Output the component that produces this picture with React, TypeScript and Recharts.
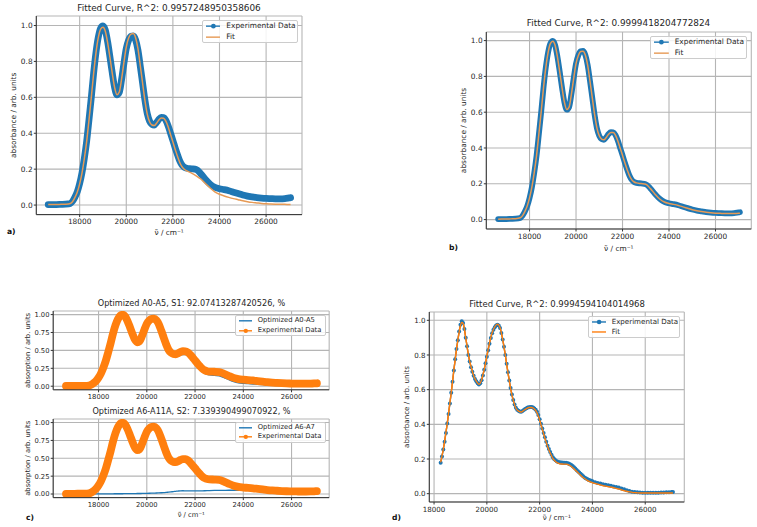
import React from 'react';
import { LineChart, Line, XAxis, YAxis, CartesianGrid, Legend } from 'recharts';

const FONT = "'DejaVu Sans', 'Liberation Sans', sans-serif";
const BLUE = '#1f77b4';
const ORANGE = '#ff7f0e';
const FIT_TAN = '#e69a55';
const TEXT = '#262626';
const SPINE = '#333333';
const GRID = '#b5b5b5';

// ---- shared spectrum (panels a, b, c) ----
const specX = [
  16650, 16800, 17000, 17200, 17400, 17600, 17700, 17800, 17900, 18000,
  18100, 18200, 18300, 18400, 18500, 18600, 18700, 18800, 18900, 19000,
  19100, 19200, 19300, 19400, 19500, 19600, 19700, 19800, 19900, 20000,
  20100, 20200, 20300, 20400, 20500, 20600, 20700, 20800, 20900, 21000,
  21100, 21200, 21300, 21400, 21500, 21600, 21700, 21800, 21900, 22000,
  22100, 22200, 22300, 22400, 22500, 22600, 22800, 23000, 23200, 23400,
  23600, 23800, 24000, 24200, 24400, 24600, 24800, 25000, 25200, 25400,
  25600, 25800, 26000, 26200, 26400, 26600, 26800, 27000, 27050,
];
const specExp = [
  0.003, 0.003, 0.003, 0.004, 0.005, 0.009, 0.022, 0.045, 0.075, 0.12,
  0.18, 0.26, 0.355, 0.475, 0.6, 0.735, 0.85, 0.935, 0.985, 0.998,
  0.975, 0.91, 0.825, 0.735, 0.655, 0.614, 0.628, 0.7, 0.79, 0.872,
  0.918, 0.94, 0.942, 0.92, 0.864, 0.775, 0.68, 0.585, 0.51, 0.468,
  0.45, 0.446, 0.46, 0.478, 0.488, 0.487, 0.472, 0.44, 0.4, 0.36,
  0.318, 0.28, 0.245, 0.222, 0.21, 0.205, 0.202, 0.198, 0.174, 0.143,
  0.116, 0.099, 0.091, 0.086, 0.08, 0.072, 0.064, 0.056, 0.05, 0.046,
  0.042, 0.039, 0.037, 0.036, 0.035, 0.035, 0.036, 0.04, 0.041,
];
const fitA = [
  0.003, 0.003, 0.003, 0.004, 0.005, 0.009, 0.02, 0.043, 0.073, 0.118,
  0.178, 0.258, 0.353, 0.473, 0.6, 0.733, 0.848, 0.932, 0.98, 0.99,
  0.968, 0.905, 0.822, 0.733, 0.655, 0.615, 0.63, 0.703, 0.795, 0.88,
  0.93, 0.952, 0.955, 0.932, 0.872, 0.778, 0.68, 0.583, 0.507, 0.464,
  0.446, 0.443, 0.456, 0.474, 0.485, 0.484, 0.468, 0.435, 0.393, 0.352,
  0.31, 0.27, 0.236, 0.212, 0.198, 0.19, 0.178, 0.163, 0.145, 0.12,
  0.095, 0.074, 0.06, 0.051, 0.043, 0.036, 0.03, 0.024, 0.019, 0.015,
  0.012, 0.009, 0.007, 0.006, 0.005, 0.004, 0.004, 0.003, 0.003,
];
const fitB = [
  0.002, 0.003, 0.003, 0.004, 0.005, 0.01, 0.022, 0.046, 0.076, 0.121,
  0.181, 0.261, 0.356, 0.476, 0.601, 0.735, 0.849, 0.934, 0.984, 0.997,
  0.974, 0.909, 0.824, 0.735, 0.656, 0.615, 0.628, 0.699, 0.789, 0.871,
  0.917, 0.939, 0.941, 0.919, 0.863, 0.774, 0.68, 0.586, 0.511, 0.468,
  0.45, 0.446, 0.459, 0.477, 0.487, 0.486, 0.471, 0.439, 0.399, 0.359,
  0.317, 0.279, 0.245, 0.222, 0.21, 0.205, 0.201, 0.197, 0.173, 0.142,
  0.115, 0.098, 0.09, 0.085, 0.079, 0.071, 0.063, 0.055, 0.049, 0.045,
  0.041, 0.038, 0.036, 0.035, 0.034, 0.034, 0.034, 0.035, 0.035,
];
const cA05 = [
  0.003, 0.003, 0.003, 0.004, 0.005, 0.009, 0.021, 0.044, 0.073, 0.118,
  0.178, 0.257, 0.352, 0.472, 0.597, 0.731, 0.846, 0.931, 0.981, 0.993,
  0.97, 0.905, 0.82, 0.729, 0.649, 0.607, 0.62, 0.69, 0.78, 0.862,
  0.906, 0.927, 0.928, 0.905, 0.848, 0.757, 0.66, 0.563, 0.482, 0.438,
  0.415, 0.408, 0.418, 0.434, 0.443, 0.442, 0.429, 0.397, 0.357, 0.317,
  0.276, 0.238, 0.203, 0.178, 0.165, 0.158, 0.15, 0.145, 0.12, 0.09,
  0.063, 0.046, 0.039, 0.035, 0.031, 0.026, 0.021, 0.017, 0.013, 0.01,
  0.008, 0.006, 0.005, 0.004, 0.004, 0.003, 0.003, 0.003, 0.003,
];
const cA67 = [
  0, 0, 0, 0, 0, 0.001, 0.001, 0.001, 0.002, 0.002,
  0.002, 0.002, 0.003, 0.003, 0.003, 0.003, 0.004, 0.004, 0.004, 0.004,
  0.005, 0.005, 0.005, 0.006, 0.006, 0.007, 0.007, 0.008, 0.009, 0.01,
  0.011, 0.012, 0.013, 0.014, 0.016, 0.018, 0.02, 0.022, 0.026, 0.03,
  0.034, 0.038, 0.042, 0.045, 0.046, 0.045, 0.044, 0.043, 0.043, 0.043,
  0.044, 0.044, 0.045, 0.046, 0.047, 0.048, 0.05, 0.051, 0.052, 0.053,
  0.053, 0.053, 0.052, 0.05, 0.048, 0.045, 0.042, 0.038, 0.035, 0.031,
  0.028, 0.025, 0.022, 0.02, 0.018, 0.017, 0.015, 0.014, 0.014,
];

// ---- panel d: experimental points ----
const dExpX = [
  18250, 18300, 18350, 18400, 18450, 18500, 18550, 18600, 18650, 18700,
  18750, 18800, 18850, 18900, 18950, 19000, 19050, 19100, 19150, 19200,
  19250, 19300, 19350, 19400, 19450, 19500, 19550, 19600, 19650, 19700,
  19750, 19800, 19850, 19900, 19950, 20000, 20050, 20100, 20150, 20200,
  20250, 20300, 20350, 20400, 20450, 20500, 20550, 20600, 20650, 20700,
  20750, 20800, 20850, 20900, 20950, 21000, 21050, 21100, 21150, 21200,
  21250, 21300, 21350, 21400, 21450, 21500, 21550, 21600, 21650, 21700,
  21750, 21800, 21850, 21900, 21950, 22000, 22050, 22100, 22150, 22200,
  22250, 22300, 22350, 22400, 22450, 22500, 22550, 22600, 22650, 22700,
  22750, 22800, 22850, 22900, 22950, 23000, 23050, 23100, 23150, 23200,
  23250, 23300, 23350, 23400, 23450, 23500, 23550, 23600, 23650, 23700,
  23750, 23800, 23850, 23900, 23950, 24000, 24100, 24200, 24300, 24400,
  24500, 24600, 24700, 24800, 24900, 25000, 25100, 25200, 25300, 25400,
  25500, 25600, 25700, 25800, 25900, 26000, 26100, 26200, 26300, 26400,
  26500, 26600, 26700, 26800, 26900, 27000, 27050,
];
const dExp = [
  0.178, 0.215, 0.255, 0.3, 0.35, 0.405, 0.46, 0.52, 0.582, 0.645,
  0.71, 0.775, 0.835, 0.885, 0.935, 0.975, 0.995, 0.985, 0.95, 0.9,
  0.85, 0.8, 0.762, 0.73, 0.703, 0.68, 0.662, 0.648, 0.637, 0.63,
  0.637, 0.655, 0.682, 0.715, 0.752, 0.79, 0.828, 0.865, 0.898, 0.925,
  0.946, 0.96, 0.97, 0.975, 0.97, 0.955, 0.927, 0.89, 0.847, 0.8,
  0.75, 0.7, 0.653, 0.61, 0.572, 0.54, 0.515, 0.495, 0.484, 0.478,
  0.474, 0.473, 0.477, 0.483, 0.488, 0.493, 0.497, 0.499, 0.5, 0.5,
  0.497, 0.492, 0.484, 0.472, 0.454, 0.43, 0.404, 0.376, 0.35, 0.325,
  0.3, 0.277, 0.257, 0.24, 0.224, 0.21, 0.2, 0.193, 0.187, 0.183,
  0.181, 0.18, 0.18, 0.179, 0.179, 0.178, 0.176, 0.174, 0.17, 0.165,
  0.159, 0.152, 0.145, 0.137, 0.13, 0.122, 0.115, 0.107, 0.1, 0.094,
  0.089, 0.084, 0.08, 0.077, 0.074, 0.071, 0.066, 0.062, 0.058, 0.054,
  0.051, 0.048, 0.045, 0.042, 0.039, 0.035, 0.03, 0.025, 0.02, 0.015,
  0.011, 0.009, 0.008, 0.007, 0.006, 0.006, 0.006, 0.006, 0.006, 0.006,
  0.006, 0.007, 0.007, 0.008, 0.008, 0.009, 0.01,
];

// ---- panel d: fit curve ----
const dFitX = [
  18250, 18300, 18400, 18500, 18600, 18700, 18800, 18900, 19000, 19050,
  19100, 19200, 19300, 19400, 19500, 19600, 19700, 19800, 19900, 20000,
  20100, 20200, 20300, 20400, 20500, 20600, 20700, 20800, 20900, 21000,
  21100, 21200, 21300, 21400, 21500, 21600, 21700, 21800, 21900, 22000,
  22100, 22200, 22300, 22400, 22500, 22600, 22700, 22800, 22900, 23000,
  23100, 23200, 23300, 23400, 23500, 23600, 23700, 23800, 23900, 24000,
  24100, 24200, 24300, 24400, 24500, 24600, 24700, 24800, 24900, 25000,
  25100, 25200, 25300, 25400, 25500, 25600, 25700, 25800, 25900, 26000,
  26100, 26200, 26300, 26400, 26500, 26600, 26700, 26800, 26900, 27000,
  27050,
];
const dFit = [
  0.18, 0.217, 0.302, 0.407, 0.522, 0.647, 0.775, 0.883, 0.97, 0.988,
  0.982, 0.9, 0.802, 0.732, 0.681, 0.649, 0.631, 0.656, 0.717, 0.793,
  0.868, 0.928, 0.963, 0.978, 0.957, 0.89, 0.798, 0.698, 0.608, 0.538,
  0.493, 0.476, 0.471, 0.481, 0.491, 0.497, 0.497, 0.488, 0.467, 0.425,
  0.371, 0.32, 0.272, 0.234, 0.204, 0.186, 0.176, 0.172, 0.171, 0.17,
  0.166, 0.157, 0.144, 0.129, 0.114, 0.099, 0.087, 0.077, 0.07, 0.064,
  0.059, 0.055, 0.051, 0.047, 0.044, 0.041, 0.038, 0.035, 0.031, 0.027,
  0.022, 0.018, 0.014, 0.011, 0.008, 0.006, 0.005, 0.004, 0.004, 0.004,
  0.004, 0.004, 0.004, 0.004, 0.004, 0.004, 0.004, 0.004, 0.004, 0.004,
  0.004,
];

const xTicks = [18000, 20000, 22000, 24000, 26000];
const yTicksTenths = [0, 0.2, 0.4, 0.6, 0.8, 1.0];
const yTicksQuarters = [0, 0.25, 0.5, 0.75, 1.0];

const titleA = 'Fitted Curve, R^2: 0.9957248950358606';
const titleB = 'Fitted Curve, R^2: 0.9999418204772824';
const titleC1 = 'Optimized A0-A5, S1: 92.07413287420526, %';
const titleC2 = 'Optimized A6-A11A, S2: 7.339390499070922, %';
const titleD = 'Fitted Curve, R^2: 0.9994594104014968';
const xLabelText = 'ν̃ / cm⁻¹';
const yLabelAbs = 'absorbance / arb. units';
const yLabelAbp = 'absorption / arb. units';

const rowsSpec = specX.map((x, i) => ({
  x,
  exp: specExp[i],
  fitA: fitA[i],
  fitB: fitB[i],
  a05: cA05[i],
  a67: cA67[i],
}));
const rowsDExp = dExpX.map((x, i) => ({ x, exp: dExp[i] }));
const rowsDFit = dFitX.map((x, i) => ({ x, fit: dFit[i] }));

function MplLegend(props: any) {
  const { payload, fs, width, order } = props;
  const lh = fs * 1.12;
  const items = [...(payload || [])].sort(
    (a: any, b: any) => order.indexOf(String(a.value)) - order.indexOf(String(b.value)),
  );
  return (
    <div
      style={{
        width,
        boxSizing: 'border-box',
        background: 'rgba(255,255,255,0.85)',
        border: '1px solid #cccccc',
        borderRadius: 2,
        padding: `${fs * 0.15}px ${fs * 0.4}px`,
        fontFamily: FONT,
        fontSize: fs,
        color: TEXT,
        lineHeight: `${lh}px`,
      }}
    >
      {items.map((e: any, i: number) => (
        <div
          key={String(e.value)}
          style={{ display: 'flex', alignItems: 'center', whiteSpace: 'nowrap', marginTop: i === 0 ? 0 : fs * 0.3 }}
        >
          <svg width={fs * 2} height={lh} style={{ flex: 'none', display: 'block' }}>
            <line x1={0} y1={lh / 2} x2={fs * 2} y2={lh / 2} stroke={e.color} strokeWidth={1.4} />
            {e.type === 'circle' ? <circle cx={fs} cy={lh / 2} r={fs * 0.32} fill={e.color} /> : null}
          </svg>
          <span style={{ marginLeft: fs * 0.8 }}>{e.value}</span>
        </div>
      ))}
    </div>
  );
}

function Panel(p: any) {
  const chartLeft = Math.max(0, p.yLabelX - 8);
  const mt = 2;
  const mr = 3;
  const yw = p.L - chartLeft;
  const chartTop = p.T - mt;
  const bottomExtra = p.xLabelY ? p.xLabelY - p.B + p.fs : p.fs * 2 + 4;
  const width = p.R - chartLeft + mr;
  const height = p.B - chartTop + bottomExtra;
  const tickStyle = { fill: TEXT, fontSize: p.fs, fontFamily: FONT };
  return (
    <div style={{ position: 'absolute', left: chartLeft, top: chartTop, width, height }}>
      <LineChart width={width} height={height} data={p.data} margin={{ top: mt, right: mr, bottom: 0, left: 0 }}>
        <CartesianGrid stroke={GRID} strokeWidth={1.1} />
        <XAxis
          dataKey="x"
          type="number"
          domain={p.xDomain}
          allowDataOverflow
          ticks={xTicks}
          interval={0}
          tickFormatter={(v: number) => String(v)}
          tick={tickStyle}
          tickSize={2.5}
          tickMargin={2}
          stroke={SPINE}
          height={bottomExtra}
          label={
            p.xLabel
              ? {
                  value: p.xLabel,
                  position: 'insideTop',
                  offset: p.xLabelY - p.B - p.fs * 0.35,
                  fill: TEXT,
                  fontSize: p.fs,
                  fontFamily: FONT,
                }
              : undefined
          }
        />
        <XAxis
          xAxisId="top"
          orientation="top"
          dataKey="x"
          type="number"
          domain={p.xDomain}
          allowDataOverflow
          tick={false}
          tickLine={false}
          height={0}
          stroke={SPINE}
        />
        <YAxis
          type="number"
          domain={p.yDomain}
          allowDataOverflow
          ticks={p.yTicks}
          interval={0}
          tickFormatter={(v: number) => v.toFixed(p.yDigits)}
          tick={tickStyle}
          tickSize={2.5}
          tickMargin={1.2}
          stroke={SPINE}
          width={yw}
          label={{
            value: p.yLabel,
            angle: -90,
            position: 'insideLeft',
            offset: p.yLabelX - chartLeft,
            textAnchor: 'middle',
            style: { textAnchor: 'middle' },
            fill: TEXT,
            fontSize: p.fs,
            fontFamily: FONT,
          }}
        />
        <YAxis
          yAxisId="right"
          orientation="right"
          type="number"
          domain={p.yDomain}
          allowDataOverflow
          tick={false}
          tickLine={false}
          width={0}
          stroke={SPINE}
        />
        {p.children}
        <Legend
          layout="vertical"
          align="center"
          verticalAlign="middle"
          wrapperStyle={{
            left: p.legend.left - chartLeft,
            top: p.legend.top - chartTop,
            width: p.legend.width,
            right: 'auto',
            bottom: 'auto',
          }}
          content={(lp: any) => (
            <MplLegend payload={lp.payload} fs={p.fs} width={p.legend.width} order={p.legendOrder} />
          )}
        />
      </LineChart>
      {p.overlay ? (
        <div style={{ position: 'absolute', left: 0, top: 0, pointerEvents: 'none' }}>
          <LineChart width={width} height={height} margin={{ top: mt, right: mr, bottom: bottomExtra, left: yw }}>
            <XAxis dataKey="x" type="number" domain={p.xDomain} allowDataOverflow hide />
            <YAxis type="number" domain={p.yDomain} allowDataOverflow hide />
            {p.overlay}
          </LineChart>
        </div>
      ) : null}
    </div>
  );
}

function Caption(p: any) {
  const style: any = {
    position: 'absolute',
    top: p.cy - p.fs * 0.6,
    fontFamily: FONT,
    fontSize: p.fs,
    lineHeight: `${p.fs * 1.2}px`,
    color: p.bold ? '#111' : TEXT,
    fontWeight: p.bold ? 'bold' : 'normal',
    whiteSpace: 'nowrap',
  };
  if (p.left !== undefined) {
    style.left = p.left;
  } else {
    style.left = p.cx - 250;
    style.width = 500;
    style.textAlign = 'center';
  }
  return <div style={style}>{p.text}</div>;
}

export default function App() {
  return (
    <div
      style={{
        position: 'absolute',
        left: 0,
        top: 0,
        width: 757,
        height: 527,
        background: '#ffffff',
        overflow: 'hidden',
        fontFamily: FONT,
      }}
    >
      {/* a) */}
      <Panel
        L={36} T={15.7} R={301.7} B={214.3}
        xDomain={[16140, 27540]} yDomain={[-0.053, 1.053]}
        yTicks={yTicksTenths} yDigits={1}
        data={rowsSpec} yLabel={yLabelAbs} yLabelX={12.7}
        xLabel={xLabelText} xLabelY={232} fs={7.4}
        legend={{ left: 201.7, top: 20, width: 96.5 }}
        legendOrder={['Experimental Data', 'Fit']}
      >
        <Line dataKey="exp" name="Experimental Data" type="monotone" stroke={BLUE} strokeWidth={6.8}
          strokeLinecap="round" strokeLinejoin="round" dot={false} activeDot={false} legendType="circle" isAnimationActive={false} />
        <Line dataKey="fitA" name="Fit" type="monotone" stroke={FIT_TAN} strokeWidth={1.5}
          dot={false} activeDot={false} legendType="line" isAnimationActive={false} />
      </Panel>
      <Caption text={titleA} cx={169} cy={8} fs={8.9} />
      <Caption text="a)" left={7} cy={232} fs={7.6} bold />

      {/* b) */}
      <Panel
        L={486} T={31.7} R={751} B={228.7}
        xDomain={[16140, 27540]} yDomain={[-0.0525, 1.048]}
        yTicks={yTicksTenths} yDigits={1}
        data={rowsSpec} yLabel={yLabelAbs} yLabelX={462.7}
        xLabel={xLabelText} xLabelY={248} fs={7.4}
        legend={{ left: 650, top: 36, width: 96.7 }}
        legendOrder={['Experimental Data', 'Fit']}
      >
        <Line dataKey="exp" name="Experimental Data" type="monotone" stroke={BLUE} strokeWidth={5.8}
          strokeLinecap="round" strokeLinejoin="round" dot={false} activeDot={false} legendType="circle" isAnimationActive={false} />
        <Line dataKey="fitB" name="Fit" type="monotone" stroke={FIT_TAN} strokeWidth={1.5}
          dot={false} activeDot={false} legendType="line" isAnimationActive={false} />
      </Panel>
      <Caption text={titleB} cx={618.5} cy={23} fs={8.9} />
      <Caption text="b)" left={449} cy={248} fs={7.6} bold />

      {/* c) top */}
      <Panel
        L={53.5} T={310.5} R={329.5} B={389.3}
        xDomain={[16120, 27560]} yDomain={[-0.05, 1.05]}
        yTicks={yTicksQuarters} yDigits={2}
        data={rowsSpec} yLabel={yLabelAbp} yLabelX={28.3}
        fs={6.8}
        legend={{ left: 235, top: 315, width: 91 }}
        legendOrder={['Optimized A0-A5', 'Experimental Data']}
      >
        <Line dataKey="a05" name="Optimized A0-A5" type="monotone" stroke={BLUE} strokeWidth={1.3}
          dot={false} activeDot={false} legendType="line" isAnimationActive={false} />
        <Line dataKey="exp" name="Experimental Data" type="monotone" stroke={ORANGE} strokeWidth={7.8}
          strokeLinecap="round" strokeLinejoin="round" dot={false} activeDot={false} legendType="circle" isAnimationActive={false} />
      </Panel>
      <Caption text={titleC1} cx={191.5} cy={304} fs={8.15} />

      {/* c) bottom */}
      <Panel
        L={53.5} T={418.7} R={329.5} B={497.3}
        xDomain={[16120, 27560]} yDomain={[-0.05, 1.05]}
        yTicks={yTicksQuarters} yDigits={2}
        data={rowsSpec} yLabel={yLabelAbp} yLabelX={28.3}
        xLabel={xLabelText} xLabelY={514} fs={6.8}
        legend={{ left: 235, top: 421.7, width: 91 }}
        legendOrder={['Optimized A6-A7', 'Experimental Data']}
      >
        <Line dataKey="a67" name="Optimized A6-A7" type="monotone" stroke={BLUE} strokeWidth={1.3}
          dot={false} activeDot={false} legendType="line" isAnimationActive={false} />
        <Line dataKey="exp" name="Experimental Data" type="monotone" stroke={ORANGE} strokeWidth={7.8}
          strokeLinecap="round" strokeLinejoin="round" dot={false} activeDot={false} legendType="circle" isAnimationActive={false} />
      </Panel>
      <Caption text={titleC2} cx={191.5} cy={412} fs={8.15} />
      <Caption text="c)" left={26} cy={518} fs={7.6} bold />

      {/* d) */}
      <Panel
        L={429.3} T={311.7} R={684.3} B={501.7}
        xDomain={[17820, 27480]} yDomain={[-0.048, 1.048]}
        yTicks={yTicksTenths} yDigits={1}
        data={rowsDExp} yLabel={yLabelAbs} yLabelX={406}
        xLabel={xLabelText} xLabelY={517} fs={7.1}
        legend={{ left: 588, top: 316, width: 91.5 }}
        legendOrder={['Experimental Data', 'Fit']}
        overlay={
          <Line data={rowsDFit} dataKey="fit" name="Fit" type="monotone" stroke={ORANGE} strokeWidth={1.3}
            dot={false} activeDot={false} legendType="line" isAnimationActive={false} />
        }
      >
        <Line data={rowsDExp} dataKey="exp" name="Experimental Data" type="monotone" stroke={BLUE} strokeWidth={1.4}
          dot={{ r: 2, fill: BLUE, stroke: BLUE, strokeWidth: 0 }} activeDot={false} legendType="circle" isAnimationActive={false} />
        <Line data={rowsDFit} dataKey="fit" name="Fit" type="monotone" stroke={ORANGE} strokeWidth={1.3}
          dot={false} activeDot={false} legendType="line" isAnimationActive={false} />
      </Panel>
      <Caption text={titleD} cx={557} cy={304} fs={8.5} />
      <Caption text="d)" left={392} cy={518} fs={7.6} bold />
    </div>
  );
}
